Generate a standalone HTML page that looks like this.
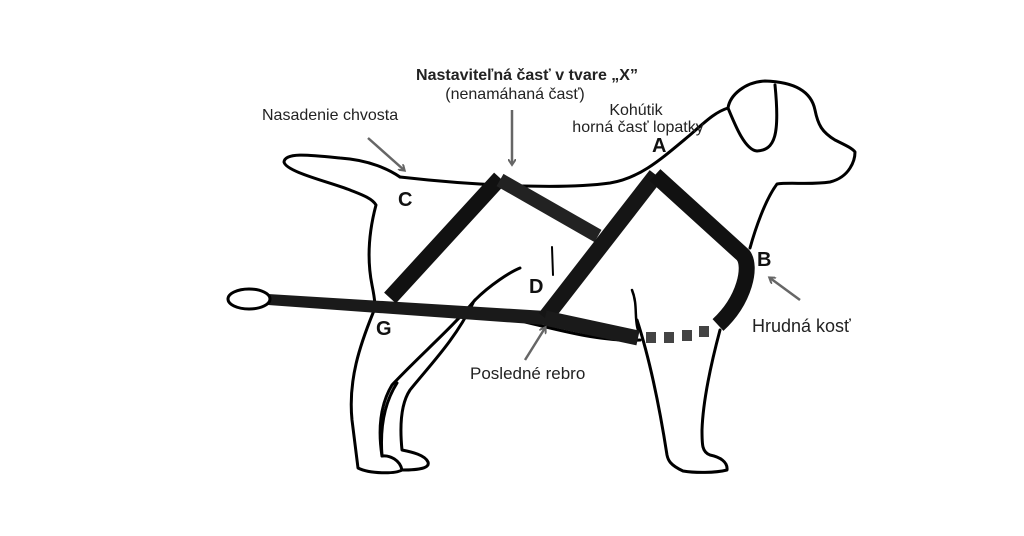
<!DOCTYPE html>
<html><head><meta charset="utf-8"><style>
html,body{margin:0;padding:0;background:#fff;}
svg{display:block}
text{font-family:"Liberation Sans",sans-serif;}
</style></head><body>
<svg width="1024" height="536" viewBox="0 0 1024 536" xmlns="http://www.w3.org/2000/svg">
<defs><marker id="ar" markerWidth="8" markerHeight="8" refX="5" refY="4" orient="auto" markerUnits="userSpaceOnUse"><path d="M0,0 L6,4 L0,8" fill="none" stroke="#666" stroke-width="2"/></marker></defs>
<g fill="none" stroke="#000" stroke-width="3" stroke-linecap="round" stroke-linejoin="round">
<path d="M400,177 C390,170 370,160 340,158 C310,155 285,152 284,162 C286,172 330,182 350,190 C360,194 372,198 376,205 C372,220 365,250 372,285 C375,300 376,308 373,313 C360,345 348,380 352,420 C355,445 357,460 358,468 C370,474 395,474 402,470 C400,460 390,455 382,456 C378,430 380,405 392,385 C420,355 450,330 475,300"/>
<path d="M400,177 C470,185 560,190 610,183 C640,178 660,160 690,135 C705,122 715,112 728,108 C730,95 745,82 765,81 C800,82 812,95 815,110 C818,125 822,132 835,140 C845,145 852,148 855,152 C855,160 850,177 830,182 C810,185 790,182 777,184 C765,200 755,230 750,248"/>
<path d="M728,108 C735,125 745,150 757,151 C775,150 780,135 775,85"/>
<path d="M720,330 C712,360 703,400 702,430 C702,445 702,452 710,455 C720,457 728,462 727,470 C715,473 695,473 683,471 C670,465 668,460 667,455 C660,410 650,360 637,320"/>
<path d="M402,470 C420,470 430,468 428,462 C425,455 412,452 402,450 C400,430 400,405 410,390 C430,365 455,340 473,303"/>
<path d="M382,456 C380,430 383,405 397,383"/>
<path d="M525,322 C560,330 600,342 640,340"/>
<path d="M475,300 C490,285 510,272 520,268"/>
<path d="M552,247 L553,275" stroke-width="2"/>
<path d="M632,290 C638,305 634,318 638,330" stroke-width="2.5"/>
</g>
<g stroke-linecap="butt">
<polygon points="268,294 546,311 546,325 268,305" fill="#1a1a1a"/>
<line x1="390" y1="298" x2="500" y2="178" stroke="#111" stroke-width="16"/>
<line x1="500" y1="180" x2="598" y2="236" stroke="#222" stroke-width="14"/>
<line x1="545" y1="318" x2="656" y2="175" stroke="#151515" stroke-width="16"/>
<path d="M655,175 L743,255 C752,266 745,300 718,325" fill="none" stroke="#111" stroke-width="16"/>
<line x1="545" y1="318" x2="638" y2="338" stroke="#1a1a1a" stroke-width="15"/>
</g>
<ellipse cx="249" cy="299" rx="21" ry="10" fill="#fff" stroke="#000" stroke-width="3"/>
<g fill="#444">
<rect x="646" y="332" width="10" height="11"/>
<rect x="664" y="332" width="10" height="11"/>
<rect x="682" y="330" width="10" height="11"/>
<rect x="699" y="326" width="10" height="11"/>
</g>
<g stroke="#666" stroke-width="2.5" fill="none" marker-end="url(#ar)">
<line x1="368" y1="138" x2="404" y2="170"/>
<line x1="512" y1="110" x2="512" y2="164"/>
<line x1="800" y1="300" x2="770" y2="278"/>
<line x1="525" y1="360" x2="545" y2="328"/>
</g>
<g fill="#222">
<text x="527" y="80" font-size="16" font-weight="bold" text-anchor="middle">Nastaviteľná časť v tvare „X”</text>
<text x="515" y="99" font-size="16" text-anchor="middle">(nenamáhaná časť)</text>
<text x="262" y="120" font-size="16">Nasadenie chvosta</text>
<text x="636" y="115" font-size="16" text-anchor="middle">Kohútik</text>
<text x="638" y="132" font-size="16" text-anchor="middle">horná časť lopatky</text>
<text x="752" y="332" font-size="18">Hrudná kosť</text>
<text x="470" y="379" font-size="17">Posledné rebro</text>
</g>
<g fill="#111" font-weight="bold" font-size="20">
<text x="652" y="152">A</text>
<text x="757" y="266">B</text>
<text x="398" y="206">C</text>
<text x="529" y="293">D</text>
<text x="376" y="335">G</text>
</g>
</svg>
</body></html>
